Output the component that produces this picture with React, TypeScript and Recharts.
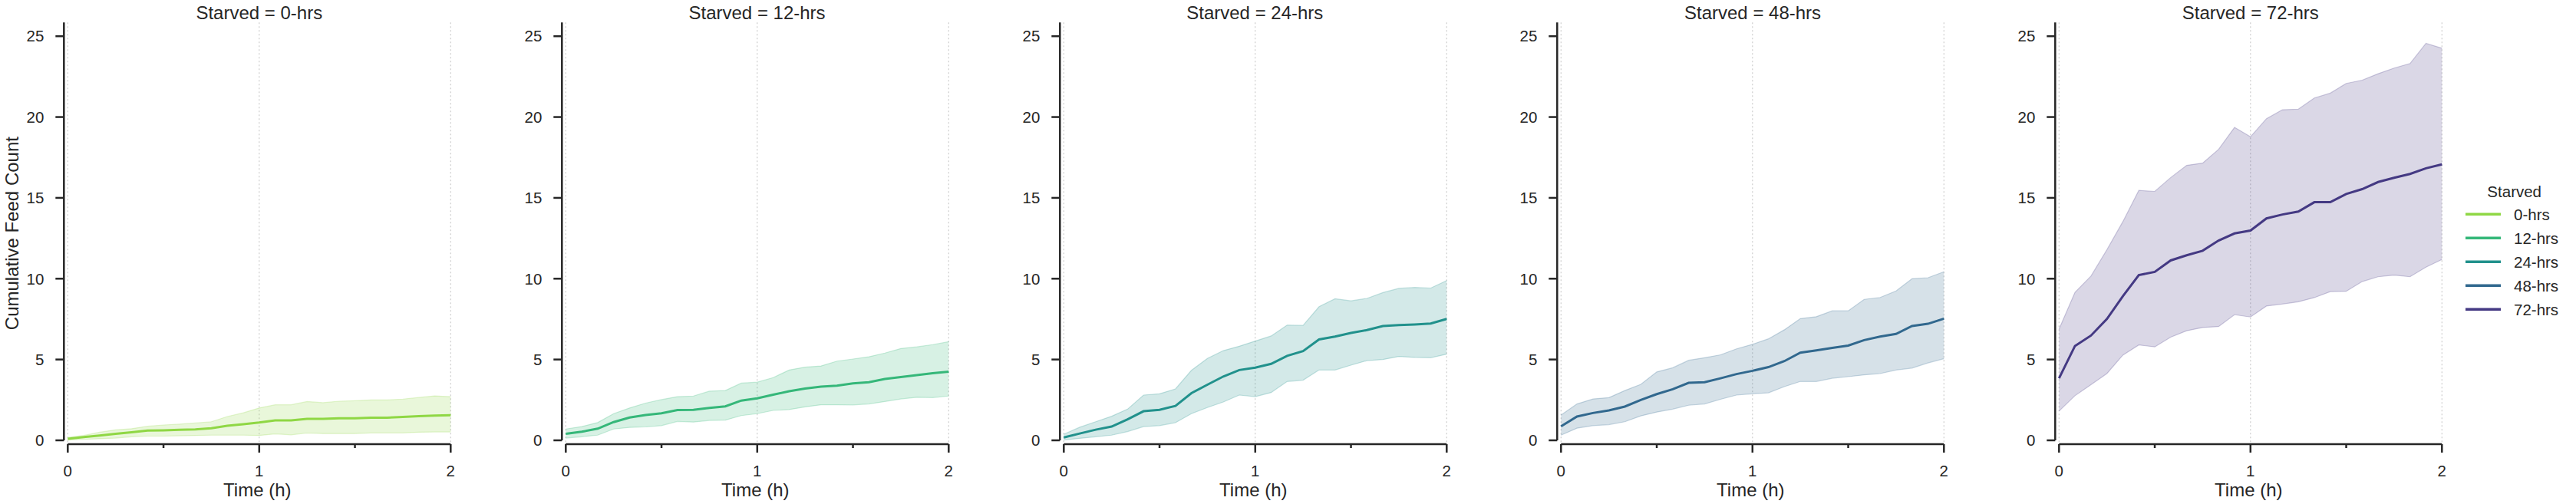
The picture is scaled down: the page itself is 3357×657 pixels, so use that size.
import { Area, CartesianGrid, ComposedChart, Line, XAxis, YAxis } from "recharts";

// time points (minutes after start), 5 min steps
const MINUTES = [0, 5, 10, 15, 20, 25, 30, 35, 40, 45, 50, 55, 60, 65, 70, 75, 80, 85, 90, 95, 100, 105, 110, 115, 120];

const GROUPS = ["0-hrs", "12-hrs", "24-hrs", "48-hrs", "72-hrs"];
const COLORS = ["#8fd744", "#35b779", "#21918c", "#31688e", "#443983"];

const Y_TICKS = [0, 5, 10, 15, 20, 25];
const X_TICKS = [0, 0.5, 1, 1.5, 2];
const GRID_X = [0, 1, 2];

// mean + confidence band per group
const mean0h = [0.1, 0.2, 0.3, 0.4, 0.5, 0.6, 0.62, 0.65, 0.68, 0.75, 0.9, 1.0, 1.1, 1.23, 1.23, 1.33, 1.33, 1.37, 1.37, 1.4, 1.4, 1.45, 1.5, 1.53, 1.55];
const hi0h = [0.18, 0.3, 0.5, 0.65, 0.72, 0.87, 0.95, 1.0, 1.07, 1.15, 1.47, 1.7, 2.0, 2.2, 2.2, 2.4, 2.33, 2.42, 2.45, 2.5, 2.5, 2.55, 2.65, 2.75, 2.7];
const lo0h = [0.02, 0.06, 0.1, 0.14, 0.22, 0.26, 0.26, 0.28, 0.3, 0.32, 0.32, 0.32, 0.3, 0.4, 0.34, 0.45, 0.42, 0.42, 0.42, 0.46, 0.46, 0.46, 0.5, 0.52, 0.52];

const mean12h = [0.4, 0.53, 0.72, 1.13, 1.41, 1.57, 1.67, 1.87, 1.89, 2.0, 2.1, 2.46, 2.6, 2.82, 3.04, 3.2, 3.32, 3.38, 3.52, 3.6, 3.8, 3.92, 4.03, 4.15, 4.25];
const hi12h = [0.7, 0.85, 1.1, 1.65, 2.0, 2.3, 2.52, 2.7, 2.74, 3.04, 3.08, 3.54, 3.6, 3.88, 4.35, 4.53, 4.6, 4.9, 5.03, 5.17, 5.4, 5.68, 5.78, 5.92, 6.1];
const lo12h = [0.14, 0.22, 0.32, 0.7, 0.8, 0.83, 0.91, 1.17, 1.13, 1.23, 1.25, 1.53, 1.65, 1.85, 1.9, 2.07, 2.2, 2.2, 2.19, 2.25, 2.4, 2.56, 2.66, 2.64, 2.74];

const mean24h = [0.18, 0.42, 0.66, 0.85, 1.3, 1.8, 1.89, 2.13, 2.92, 3.44, 3.95, 4.35, 4.5, 4.73, 5.23, 5.52, 6.24, 6.42, 6.64, 6.82, 7.07, 7.13, 7.17, 7.23, 7.51];
const hi24h = [0.38, 0.81, 1.15, 1.49, 1.93, 2.8, 2.88, 3.18, 4.33, 5.07, 5.55, 5.82, 6.14, 6.46, 7.13, 7.11, 8.27, 8.76, 8.63, 8.78, 9.14, 9.4, 9.46, 9.42, 9.88];
const lo24h = [0.02, 0.12, 0.22, 0.32, 0.54, 0.85, 0.91, 1.09, 1.65, 2.03, 2.37, 2.8, 2.7, 2.96, 3.64, 3.72, 4.35, 4.35, 4.65, 4.93, 5.0, 5.19, 5.13, 5.11, 5.33];

const mean48h = [0.87, 1.47, 1.69, 1.85, 2.09, 2.5, 2.86, 3.16, 3.56, 3.6, 3.84, 4.1, 4.3, 4.53, 4.9, 5.42, 5.56, 5.72, 5.86, 6.2, 6.42, 6.58, 7.07, 7.21, 7.53];
const hi48h = [1.57, 2.25, 2.56, 2.64, 3.08, 3.46, 4.23, 4.49, 4.95, 5.11, 5.29, 5.66, 5.94, 6.28, 6.84, 7.53, 7.65, 8.01, 8.01, 8.72, 8.84, 9.24, 10.0, 10.06, 10.43];
const lo48h = [0.32, 0.75, 0.91, 0.97, 1.15, 1.51, 1.75, 1.93, 2.17, 2.25, 2.54, 2.8, 2.88, 2.94, 3.32, 3.64, 3.64, 3.84, 3.94, 4.05, 4.13, 4.35, 4.47, 4.79, 5.05];

const mean72h = [3.84, 5.84, 6.48, 7.51, 8.92, 10.22, 10.42, 11.13, 11.45, 11.73, 12.36, 12.8, 12.98, 13.73, 13.97, 14.15, 14.73, 14.73, 15.24, 15.54, 15.98, 16.24, 16.48, 16.83, 17.07];
const hi72h = [6.88, 9.16, 10.16, 11.79, 13.53, 15.46, 15.4, 16.26, 17.01, 17.15, 18.0, 19.36, 18.78, 19.9, 20.45, 20.49, 21.18, 21.48, 22.08, 22.28, 22.68, 23.03, 23.31, 24.56, 24.26];
const lo72h = [1.81, 2.76, 3.44, 4.13, 5.27, 5.9, 5.78, 6.38, 6.78, 6.98, 7.04, 7.77, 7.63, 8.31, 8.43, 8.57, 8.83, 9.2, 9.22, 9.82, 10.12, 10.22, 10.12, 10.71, 11.19];

const MEANS = [mean0h, mean12h, mean24h, mean48h, mean72h];
const HIGHS = [hi0h, hi12h, hi24h, hi48h, hi72h];
const LOWS = [lo0h, lo12h, lo24h, lo48h, lo72h];

// layout
const FONT = '"Liberation Sans", Arial, sans-serif';
const INK = "#262626";
const PANEL_STEP = 648.75;
const CHART_W = 640;
const CHART_H = 657;
const AXIS_W = 83.3;
const PLOT_W = 504;
const TOP = 29.3;
const X_AXIS_H = 78;
const TICK_LEN = 11;
const X_TICK_GAP = 16;
const SPINE_OFFSET = 5;
const PLOT_H = CHART_H - TOP - X_AXIS_H;

function buildRows(i: number) {
  return MINUTES.map((m, k) => ({
    t: m / 60,
    mean: MEANS[i][k],
    band: [LOWS[i][k], HIGHS[i][k]],
  }));
}

const XTick = (props: any) => {
  const { x, y, payload } = props;
  const v = payload.value;
  const major = Number.isInteger(v);
  const axisY = y - TICK_LEN - X_TICK_GAP;
  return (
    <g>
      <line x1={x} x2={x} y1={axisY} y2={axisY + (major ? TICK_LEN : 5)} stroke={INK} strokeWidth={2.5} />
      {major && (
        <text x={x} y={y} dy="0.71em" textAnchor="middle" fill={INK} fontSize={20.5} fontFamily={FONT}>
          {v}
        </text>
      )}
    </g>
  );
};

function Panel({ index }: { index: number }) {
  const color = COLORS[index];
  return (
    <div style={{ position: "absolute", left: index * PANEL_STEP, top: 0 }}>
      <ComposedChart
        width={CHART_W}
        height={CHART_H}
        data={buildRows(index)}
        margin={{ top: TOP, right: CHART_W - AXIS_W - PLOT_W, bottom: 0, left: 0 }}
      >
        <CartesianGrid
          horizontal={false}
          verticalValues={GRID_X}
          stroke="#cccccc"
          strokeWidth={1.2}
          strokeDasharray="2 3"
        />
        <XAxis
          type="number"
          dataKey="t"
          domain={[0, 2]}
          ticks={X_TICKS}
          interval={0}
          padding={{ left: SPINE_OFFSET, right: 0 }}
          height={X_AXIS_H}
          tickSize={TICK_LEN}
          tickMargin={X_TICK_GAP}
          tickLine={false}
          tick={<XTick />}
          axisLine={{ stroke: INK, strokeWidth: 2.5, strokeDasharray: `0 ${SPINE_OFFSET} 2000` }}
          label={{ value: "Time (h)", position: "insideBottom", offset: 10, fontSize: 24, fill: INK, fontFamily: FONT }}
        />
        <YAxis
          type="number"
          domain={[0, 25.85]}
          ticks={Y_TICKS}
          interval={0}
          width={AXIS_W}
          padding={{ top: 0, bottom: SPINE_OFFSET }}
          tickSize={TICK_LEN}
          tickMargin={15}
          tick={{ fill: INK, fontSize: 20.5, fontFamily: FONT }}
          tickLine={{ stroke: INK, strokeWidth: 2.5 }}
          axisLine={{ stroke: INK, strokeWidth: 2.5, strokeDasharray: `${PLOT_H - SPINE_OFFSET} ${SPINE_OFFSET}` }}
          label={
            index === 0
              ? {
                  value: "Cumulative Feed Count",
                  angle: -90,
                  position: "insideLeft",
                  offset: 15.4,
                  style: { textAnchor: "middle", fontSize: 24, fill: INK, fontFamily: FONT },
                }
              : undefined
          }
        />
        <Area
          type="linear"
          dataKey="band"
          stroke={color}
          strokeOpacity={0.25}
          strokeWidth={1.2}
          fill={color}
          fillOpacity={0.2}
          dot={false}
          activeDot={false}
          isAnimationActive={false}
        />
        <Line
          type="linear"
          dataKey="mean"
          stroke={color}
          strokeWidth={3}
          dot={false}
          activeDot={false}
          isAnimationActive={false}
        />
      </ComposedChart>
    </div>
  );
}

export default function App() {
  return (
    <div
      style={{
        position: "absolute",
        left: 0,
        top: 0,
        width: 3357,
        height: 657,
        background: "#fff",
        fontFamily: FONT,
        overflow: "hidden",
      }}
    >
      {GROUPS.map((g, i) => (
        <Panel key={g} index={i} />
      ))}
      <svg width={3357} height={657} style={{ position: "absolute", left: 0, top: 0, pointerEvents: "none" }}>
        {GROUPS.map((g, i) => (
          <text
            key={g}
            x={i * PANEL_STEP + AXIS_W + SPINE_OFFSET + (PLOT_W - SPINE_OFFSET) / 2}
            y={25}
            textAnchor="middle"
            fontSize={24}
            fill={INK}
            fontFamily={FONT}
          >
            {`Starved = ${g}`}
          </text>
        ))}
        <text x={3276.7} y={256.7} textAnchor="middle" fontSize={20.5} fill={INK} fontFamily={FONT}>
          Starved
        </text>
        {GROUPS.map((g, i) => (
          <g key={g}>
            <line x1={3213} x2={3259} y1={279.3 + 31 * i} y2={279.3 + 31 * i} stroke={COLORS[i]} strokeWidth={3.5} />
            <text x={3276} y={279.3 + 31 * i} dy="0.355em" fontSize={20.5} fill={INK} fontFamily={FONT}>
              {g}
            </text>
          </g>
        ))}
      </svg>
    </div>
  );
}
